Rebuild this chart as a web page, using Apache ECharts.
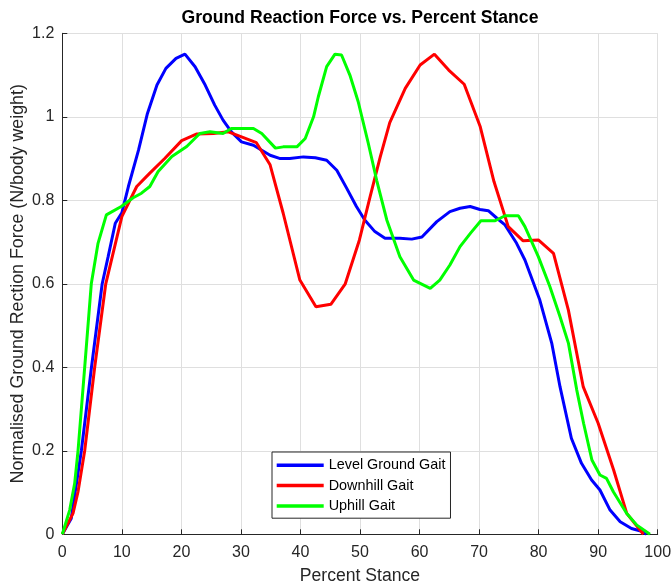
<!DOCTYPE html>
<html>
<head>
<meta charset="utf-8">
<title>Ground Reaction Force vs. Percent Stance</title>
<script src="https://cdn.jsdelivr.net/npm/echarts@6/dist/echarts.min.js"></script>
<style>
  html, body { margin: 0; padding: 0; background: #fff; }
  #chart { width: 672px; height: 584px; }
</style>
</head>
<body>
<div id="chart"></div>
<script>
// Level ground gait (blue)
const levelX = [0, 1.5, 3.2, 4.9, 6.7, 7.7, 8.9, 10.0, 11.1, 12.8, 14.3, 15.9, 17.4, 19.1, 20.6, 22.3, 24.0, 25.6, 27.0, 28.4,
  30.1, 32.1, 33.5, 34.9, 36.6, 38.2, 40.5, 42.5, 44.4, 46.1, 47.8, 49.4, 50.8, 52.5, 54.2, 56.7, 58.7, 60.4, 62.9, 65.1,
  66.8, 68.5, 70.15, 71.55, 73.0, 74.35, 76.3, 77.7, 80.2, 82.2, 83.6, 85.5, 87.2, 88.9, 90.3, 92.0, 93.7, 95.6, 97.6, 98.1];
const levelY = [0, 0.038, 0.2, 0.4, 0.6, 0.665, 0.745, 0.77, 0.833, 0.92, 1.008, 1.076, 1.116, 1.14, 1.15, 1.12, 1.076, 1.028, 0.992, 0.964,
  0.94, 0.932, 0.92, 0.908, 0.9, 0.9, 0.904, 0.902, 0.896, 0.872, 0.828, 0.785, 0.753, 0.725, 0.709, 0.709, 0.707, 0.712, 0.749, 0.773,
  0.781, 0.785, 0.778, 0.775, 0.757, 0.741, 0.697, 0.657, 0.561, 0.458, 0.353, 0.23, 0.17, 0.13, 0.106, 0.058, 0.03, 0.014, 0.006, 0];

// Downhill gait (red)
const downX = [0, 1.8, 2.64, 3.76, 5.44, 7.3, 10.0, 12.5, 14.7, 17.2, 20.05, 22.6, 25.4, 27.9, 30.1, 32.6, 34.9, 37.1, 39.9, 42.6,
  45.1, 47.5, 49.9, 51.7, 53.4, 55.0, 57.6, 60.1, 62.5, 64.9, 67.5, 70.2, 72.5, 74.9, 77.4, 79.95, 82.5, 85.0, 87.5, 90.0,
  92.6, 94.8, 97.6];
const downY = [0, 0.05, 0.102, 0.2, 0.4, 0.6, 0.761, 0.833, 0.865, 0.9, 0.943, 0.959, 0.96, 0.964, 0.952, 0.938, 0.885, 0.769, 0.609, 0.545,
  0.551, 0.599, 0.705, 0.809, 0.904, 0.986, 1.068, 1.124, 1.15, 1.112, 1.078, 0.976, 0.845, 0.737, 0.703, 0.705, 0.673, 0.537, 0.353, 0.266,
  0.154, 0.05, 0];

// Uphill gait (green)
const upX = [0, 1.24, 2.08, 2.64, 3.76, 4.87, 6.0, 7.4, 9.9, 11.9, 13.3, 14.7, 16.1, 18.4, 20.9, 23.1, 24.8, 27.0, 28.4, 32.1,
  33.5, 35.8, 37.1, 39.4, 40.8, 42.2, 43.0, 44.4, 45.8, 46.9, 48.3, 49.7, 51.4, 52.8, 54.5, 56.7, 59.0, 61.8, 63.4, 65.1,
  66.8, 68.6, 70.3, 72.7, 74.35, 76.6, 77.7, 79.95, 81.9, 83.6, 85.0, 86.4, 87.55, 88.95, 90.3, 91.4, 92.55, 94.8, 96.5, 98.7];
const upY = [0, 0.058, 0.122, 0.2, 0.4, 0.6, 0.697, 0.765, 0.785, 0.806, 0.817, 0.833, 0.869, 0.905, 0.929, 0.96, 0.964, 0.96, 0.972, 0.972,
  0.96, 0.925, 0.928, 0.928, 0.948, 1.0, 1.048, 1.12, 1.15, 1.148, 1.1, 1.036, 0.936, 0.848, 0.753, 0.665, 0.609, 0.589, 0.609, 0.645,
  0.689, 0.722, 0.751, 0.751, 0.763, 0.763, 0.737, 0.665, 0.593, 0.521, 0.458, 0.346, 0.266, 0.178, 0.142, 0.134, 0.102, 0.05, 0.022, 0];

const seriesNames = ['Level Ground Gait', 'Downhill Gait', 'Uphill Gait'];
const seriesColors = ['#0000ff', '#ff0000', '#00ff00'];

const font = 'Liberation Sans, Arial, Helvetica, sans-serif';
const axisColor = '#262626';
const gridColor = '#dfdfdf';

const pairs = (xs, ys) => xs.map((x, i) => [x, ys[i]]);

const chart = echarts.init(document.getElementById('chart'));

const option = {
  animation: false,
  backgroundColor: '#fff',
  title: {
    text: 'Ground Reaction Force vs. Percent Stance',
    left: 360,
    top: 9,
    padding: 0,
    textAlign: 'center',
    textStyle: {
      fontFamily: font,
      fontSize: 17.6,
      fontWeight: 'bold',
      color: '#000'
    }
  },
  grid: {
    left: 62.3,
    right: 14.3,
    top: 33.3,
    bottom: 49.7,
    outerBoundsMode: 'none'
  },
  legend: {
    orient: 'vertical',
    left: 272,
    top: 452,
    data: seriesNames,
    icon: 'rect',
    itemWidth: 47,
    itemHeight: 3.5,
    itemGap: 4.3,
    padding: [5.3, 5, 4.3, 4.7],
    backgroundColor: '#fff',
    borderColor: axisColor,
    borderWidth: 1,
    borderRadius: 0,
    textStyle: {
      fontFamily: font,
      fontSize: 14.4,
      lineHeight: 16,
      color: '#000'
    }
  },
  xAxis: {
    type: 'value',
    min: 0,
    max: 100,
    interval: 10,
    name: 'Percent Stance',
    nameLocation: 'middle',
    nameGap: 33,
    nameMoveOverlap: false,
    nameTextStyle: {
      fontFamily: font,
      fontSize: 17.6,
      color: axisColor
    },
    axisLine: { show: true, lineStyle: { color: axisColor, width: 1 } },
    axisTick: { show: true, inside: true, length: 5, lineStyle: { color: axisColor } },
    axisLabel: { margin: 10, fontFamily: font, fontSize: 16, color: axisColor },
    splitLine: { show: true, lineStyle: { color: gridColor, width: 1 } }
  },
  yAxis: {
    type: 'value',
    min: 0,
    max: 1.2,
    interval: 0.2,
    name: 'Normalised Ground Rection Force (N/body weight)',
    nameLocation: 'middle',
    nameGap: 35,
    nameMoveOverlap: false,
    nameTextStyle: {
      fontFamily: font,
      fontSize: 17.8,
      color: axisColor
    },
    axisLine: { show: true, lineStyle: { color: axisColor, width: 1 } },
    axisTick: { show: true, inside: true, length: 5, lineStyle: { color: axisColor } },
    axisLabel: { margin: 8, fontFamily: font, fontSize: 16, color: axisColor },
    splitLine: { show: true, lineStyle: { color: gridColor, width: 1 } }
  },
  series: [
    { data: pairs(levelX, levelY) },
    { data: pairs(downX, downY) },
    { data: pairs(upX, upY) }
  ].map((s, i) => ({
    name: seriesNames[i],
    type: 'line',
    data: s.data,
    symbol: 'none',
    showSymbol: false,
    color: seriesColors[i],
    lineStyle: { width: 3, color: seriesColors[i] },
    z: 2 + i
  }))
};

chart.setOption(option);
</script>
</body>
</html>
